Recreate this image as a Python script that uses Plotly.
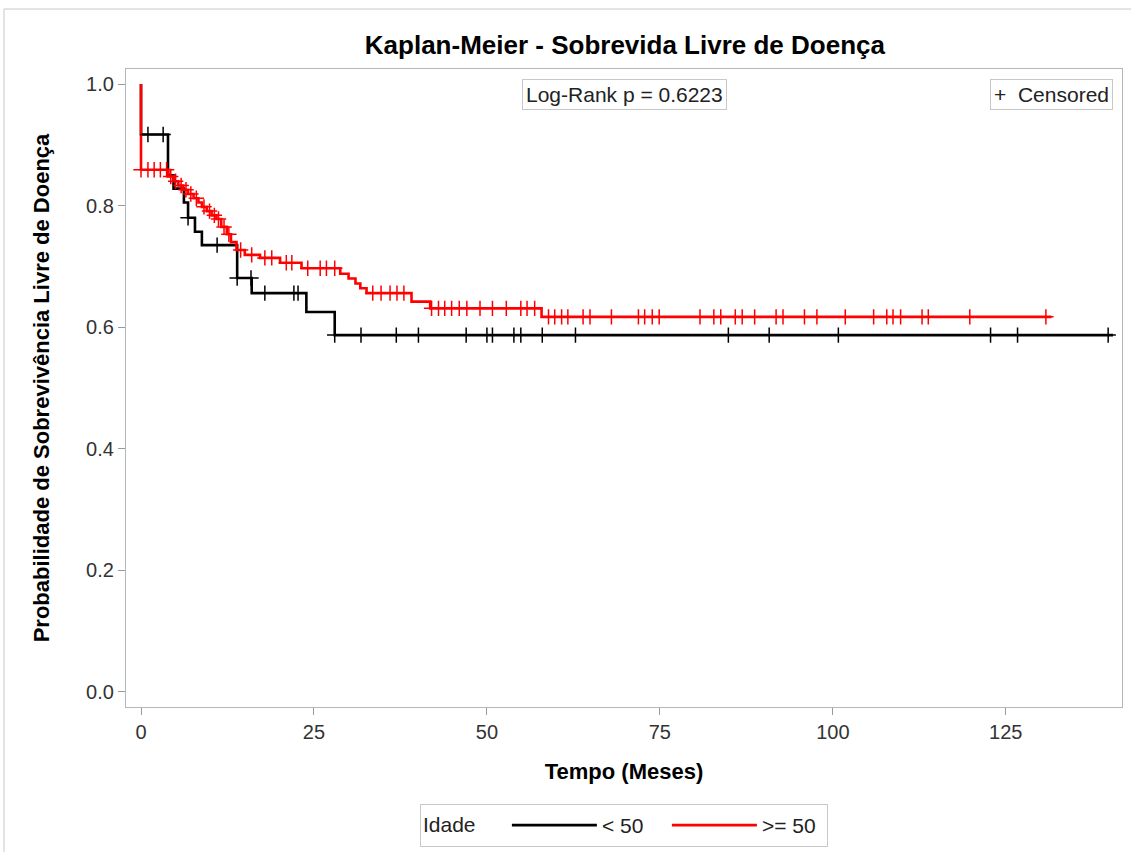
import numpy as np
import plotly.graph_objects as go

# ---- data ----
black_times = [0, 0, 3.9, 4.7, 6.2, 6.8, 7.8, 8.8, 13.9, 16.0, 23.9, 28.0, 140.5]
black_surv = [1.0, 0.917, 0.850, 0.828, 0.805, 0.780, 0.757, 0.735, 0.681, 0.656, 0.625, 0.587, 0.587]
black_cens = [1.0, 3.2, 6.8, 11.0, 13.9, 15.9, 17.9, 22.1, 22.7, 28.0, 31.8, 36.9, 40.1,
              47.0, 50.0, 50.8, 53.9, 54.9, 58.0, 62.8, 84.9, 90.8, 100.8, 122.8, 126.7, 139.8]

red_times = [0, 0, 3.95, 4.7, 5.4, 6.1, 6.8, 7.6, 8.3, 8.8, 9.5, 10.2, 10.9, 11.6, 12.4,
             13.0, 13.8, 15.0, 17.2, 20.1, 23.2, 28.8, 30.0, 31.0, 31.7, 32.6, 39.1, 41.8,
             57.9, 131.6]
red_surv = [1.0, 0.859, 0.848, 0.840, 0.833, 0.826, 0.819, 0.812, 0.805, 0.798, 0.791,
            0.784, 0.778, 0.765, 0.753, 0.740, 0.727, 0.719, 0.714, 0.706, 0.697, 0.688,
            0.680, 0.672, 0.664, 0.656, 0.642, 0.631, 0.617, 0.617]
red_cens = [0.0, 1.0, 1.9, 2.8, 3.7, 4.3, 5.0, 5.8, 6.5, 7.2, 8.0, 9.1, 9.9, 10.6, 11.2,
            12.0, 12.7, 14.4, 16.0, 17.9, 18.9, 21.0, 21.8, 24.1, 25.9, 26.8, 28.0, 33.5,
            34.7, 36.0, 37.0, 38.0, 42.0, 43.0, 43.9, 44.9, 46.0, 47.1, 49.0, 50.8, 52.8,
            54.9, 55.8, 56.9, 58.9, 59.8, 60.8, 61.7, 63.9, 64.9, 68.0, 71.9, 72.8, 73.9,
            74.9, 80.8, 82.8, 83.8, 85.9, 86.9, 88.7, 91.8, 92.8, 95.9, 97.7, 101.8, 105.9,
            107.8, 108.7, 109.8, 112.9, 113.8, 119.8, 130.8]

groups = ["< 50", ">= 50"]
colors = ["#000000", "#ff0000"]
x_ticks = [0, 25, 50, 75, 100, 125]
y_ticks = [0.0, 0.2, 0.4, 0.6, 0.8, 1.0]
pvalue_text = "Log-Rank p = 0.6223"


def surv_at(times, surv, t):
    t_arr = np.asarray(times)
    s_arr = np.asarray(surv)
    idx = np.searchsorted(t_arr, np.asarray(t), side="right") - 1
    return s_arr[idx]


FONT = "Liberation Sans, Arial, sans-serif"
fig = go.Figure()

series = [(black_times, black_surv, black_cens), (red_times, red_surv, red_cens)]
for (tt, ss, cc), name, col in zip(series, groups, colors):
    fig.add_trace(go.Scatter(
        x=tt, y=ss, mode="lines", line=dict(color=col, width=2.6, shape="hv"),
        name=name, showlegend=True))
for (tt, ss, cc), name, col in zip(series, groups, colors):
    fig.add_trace(go.Scatter(
        x=cc, y=surv_at(tt, ss, cc), mode="markers",
        marker=dict(symbol="cross-thin", size=11, line=dict(color=col, width=1.5)),
        showlegend=False, hoverinfo="x+y", name=name))

axis_common = dict(
    showgrid=False, zeroline=False, showline=True, mirror=True,
    linecolor="#b3b8bb", linewidth=1.2, ticks="outside", ticklen=7,
    tickcolor="#9a9a9a", tickwidth=1,
    tickfont=dict(family=FONT, size=20, color="#333333"),
)

fig.update_layout(
    width=1131, height=852,
    margin=dict(l=126, r=9, t=69, b=145, autoexpand=False),
    paper_bgcolor="white", plot_bgcolor="white",
    title=dict(text="<b>Kaplan-Meier - Sobrevida Livre de Doença</b>",
               x=0.5525, xanchor="center", y=1 - 45 / 852, yanchor="middle",
               font=dict(family=FONT, size=26, color="#000000")),
    xaxis=dict(range=[-2.17, 141.8], tickvals=x_ticks,
               title=dict(text="<b>Tempo (Meses)</b>", standoff=21,
                          font=dict(family=FONT, size=22, color="#000000")),
               **axis_common),
    yaxis=dict(range=[-0.0247, 1.0247], tickvals=y_ticks, tickformat=".1f",
               title=dict(text="<b>Probabilidade de Sobrevivência Livre de Doença</b>", standoff=30,
                          font=dict(family=FONT, size=22, color="#000000")),
               **axis_common),
    legend=dict(orientation="h", x=0.5, xanchor="center", y=-0.152, yanchor="top",
                title=dict(text="Idade    ", font=dict(family=FONT, size=21, color="#222222")),
                font=dict(family=FONT, size=21, color="#222222"),
                bordercolor="#c8c8c8", borderwidth=1, bgcolor="white",
                itemwidth=85, entrywidth=60, tracegroupgap=0),
    annotations=[
        dict(text=pvalue_text, xref="paper", yref="paper", x=0.5, y=(707 - 94) / 638,
             xanchor="center", yanchor="middle", showarrow=False,
             font=dict(family=FONT, size=21, color="#222222"),
             bordercolor="#c8c8c8", borderwidth=1, borderpad=3, bgcolor="white"),
        dict(text="+  Censored", xref="paper", yref="paper", x=(1113 - 126) / 996,
             y=(707 - 94) / 638, xanchor="right", yanchor="middle", showarrow=False,
             font=dict(family=FONT, size=21, color="#222222"),
             bordercolor="#c8c8c8", borderwidth=1, borderpad=3, bgcolor="white"),
    ],
    shapes=[
        dict(type="line", xref="paper", yref="paper", x0=(4 - 126) / 996, x1=(1131 - 126) / 996,
             y0=(707 - 9) / 638, y1=(707 - 9) / 638, line=dict(color="#c8c8c8", width=1)),
        dict(type="line", xref="paper", yref="paper", x0=(4 - 126) / 996, x1=(4 - 126) / 996,
             y0=(707 - 9) / 638, y1=(707 - 852) / 638, line=dict(color="#c8c8c8", width=1)),
    ],
)

fig.write_html("out.html")
